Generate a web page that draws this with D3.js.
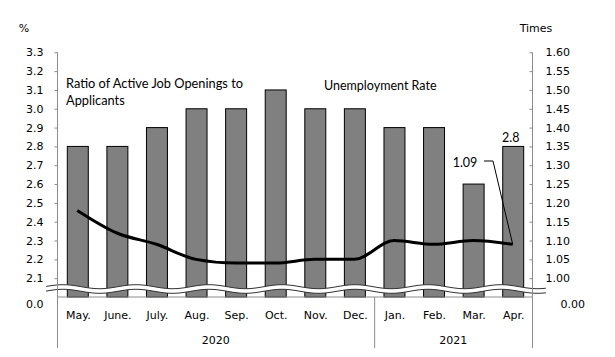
<!DOCTYPE html>
<html>
<head>
<meta charset="utf-8">
<script src="https://cdn.jsdelivr.net/npm/d3@7"></script>
<style>
  html, body { margin: 0; padding: 0; background: #fff; }
  svg { display: block; }
  .tick text, .lbl { font-family: "DejaVu Sans", Verdana, sans-serif; font-size: 11px; fill: #000; }
  .note { font-family: Lato, "Liberation Sans", sans-serif; font-size: 12.5px; fill: #000; }
</style>
</head>
<body>
<svg id="chart" width="615" height="357"></svg>
<script>
// ---- data ----
const months = ["May.", "June.", "July.", "Aug.", "Sep.", "Oct.", "Nov.", "Dec.", "Jan.", "Feb.", "Mar.", "Apr."];
const unemploymentRate = [2.8, 2.8, 2.9, 3.0, 3.0, 3.1, 3.0, 3.0, 2.9, 2.9, 2.6, 2.8];
const jobRatio = [1.18, 1.12, 1.09, 1.05, 1.04, 1.04, 1.05, 1.05, 1.10, 1.09, 1.10, 1.09];
const years = ["2020", "2021"];
const yearStart = [0, 8];
const yearEnd = [7, 11];
const leftTicks = [2.1, 2.2, 2.3, 2.4, 2.5, 2.6, 2.7, 2.8, 2.9, 3.0, 3.1, 3.2, 3.3];
const rightTicks = [1.00, 1.05, 1.10, 1.15, 1.20, 1.25, 1.30, 1.35, 1.40, 1.45, 1.50, 1.55, 1.60];
const leftBreakLabel = "0.0";
const rightBreakLabel = "0.00";

// ---- layout ----
const svg = d3.select("#chart");
const L = 57.5, R = 532.5, T = 52.3, B = 297;

const x = d3.scaleBand().domain(months).range([L, R]).paddingInner(0.47).paddingOuter(0.235);
const step = x.step();
const xc = m => x(m) + x.bandwidth() / 2;
const yL = d3.scaleLinear().domain([2.0, 3.3]).range([B, T]);
const yR = d3.scaleLinear().domain([0.95, 1.60]).range([B, T]);

const axisColor = "#8c8c8c";

// bars
svg.append("g").selectAll("rect").data(months).join("rect")
  .attr("x", d => x(d) + 0.5)
  .attr("y", (d, i) => yL(unemploymentRate[i]))
  .attr("width", x.bandwidth())
  .attr("height", (d, i) => B - yL(unemploymentRate[i]))
  .attr("fill", "#808080")
  .attr("stroke", "#000")
  .attr("stroke-width", 1);

// axis break (wavy band)
const waveX = d3.range(46, 547, 1);
const wave = (c, xx) => c - 2 * Math.cos(2 * Math.PI * (xx - 63) / 73);
svg.append("path")
  .attr("d", d3.area().x(d => d).y0(d => wave(291.3, d)).y1(d => wave(286.7, d)).curve(d3.curveBasis)(waveX))
  .attr("fill", "#fff");
[286.7, 291.3].forEach(c => {
  svg.append("path")
    .attr("d", d3.line().x(d => d).y(d => wave(c, d)).curve(d3.curveBasis)(waveX))
    .attr("fill", "none").attr("stroke", "#333").attr("stroke-width", 1);
});

// left axis
const gL = svg.append("g").attr("transform", `translate(${L},0)`)
  .call(d3.axisLeft(yL).tickValues(leftTicks).tickFormat(d3.format(".1f")).tickSize(3).tickPadding(11));
gL.select(".domain").remove();
gL.selectAll(".tick line").attr("stroke", axisColor);
svg.append("line").attr("x1", L).attr("x2", L).attr("y1", T).attr("y2", 348).attr("stroke", axisColor);
svg.append("text").attr("class", "lbl").attr("x", L - 14).attr("y", B + 11)
  .attr("text-anchor", "end").text(leftBreakLabel);

// right axis
const gR = svg.append("g").attr("transform", `translate(${R},0)`)
  .call(d3.axisRight(yR).tickValues(rightTicks).tickFormat(d3.format(".2f")).tickSize(-3).tickPadding(13));
gR.select(".domain").remove();
gR.selectAll(".tick line").attr("stroke", axisColor);
svg.append("line").attr("x1", R).attr("x2", R).attr("y1", T).attr("y2", 348).attr("stroke", axisColor);
svg.append("text").attr("class", "lbl").attr("x", R + 28).attr("y", B + 11).text(rightBreakLabel);

// baseline
svg.append("line").attr("x1", L).attr("x2", R).attr("y1", B).attr("y2", B).attr("stroke", axisColor);

// x category labels
svg.append("g").selectAll("text").data(months).join("text")
  .attr("class", "lbl").attr("x", d => xc(d) + 1).attr("y", 319)
  .attr("text-anchor", "middle").text(d => d);

// year separators and labels
yearStart.forEach((s, i) => {
  if (i > 0) {
    const sx = x(months[s]) - x.paddingInner() * step / 2 + 0.5;
    svg.append("line").attr("x1", sx).attr("x2", sx).attr("y1", B).attr("y2", 348).attr("stroke", axisColor);
  }
  const cx = (xc(months[s]) + xc(months[yearEnd[i]])) / 2;
  svg.append("text").attr("class", "lbl").attr("x", cx).attr("y", 344)
    .attr("text-anchor", "middle").text(years[i]);
});

// unit labels
svg.append("text").attr("class", "lbl").attr("x", 24).attr("y", 32).attr("text-anchor", "middle").text("%");
svg.append("text").attr("class", "lbl").attr("x", 536).attr("y", 32).attr("text-anchor", "middle").text("Times");

// ratio line
svg.append("path")
  .attr("d", d3.line().x((d, i) => xc(months[i])).y(d => yR(d)).curve(d3.curveMonotoneX)(jobRatio))
  .attr("fill", "none").attr("stroke", "#000").attr("stroke-width", 3).attr("stroke-linejoin", "round");

// annotations
svg.append("text").attr("class", "note").attr("x", 66).attr("y", 87.5).style("font-size", "12.8px").text("Ratio of Active Job Openings to");
svg.append("text").attr("class", "note").attr("x", 66).attr("y", 104.5).style("font-size", "12.8px").text("Applicants");
svg.append("text").attr("class", "note").attr("x", 324).attr("y", 90).text("Unemployment Rate");

const last = months.length - 1;
svg.append("text").attr("class", "note").attr("x", xc(months[last]) - 2).attr("y", yL(unemploymentRate[last]) - 4)
  .attr("text-anchor", "middle").text(String(unemploymentRate[last]));
svg.append("text").attr("class", "note").attr("x", 465).attr("y", 167)
  .attr("text-anchor", "middle").text(d3.format(".2f")(jobRatio[last]));
svg.append("path")
  .attr("d", d3.line()([[484, 161], [493, 161], [xc(months[last]), yR(jobRatio[last])]]))
  .attr("fill", "none").attr("stroke", "#000").attr("stroke-width", 1);
</script>
</body>
</html>
